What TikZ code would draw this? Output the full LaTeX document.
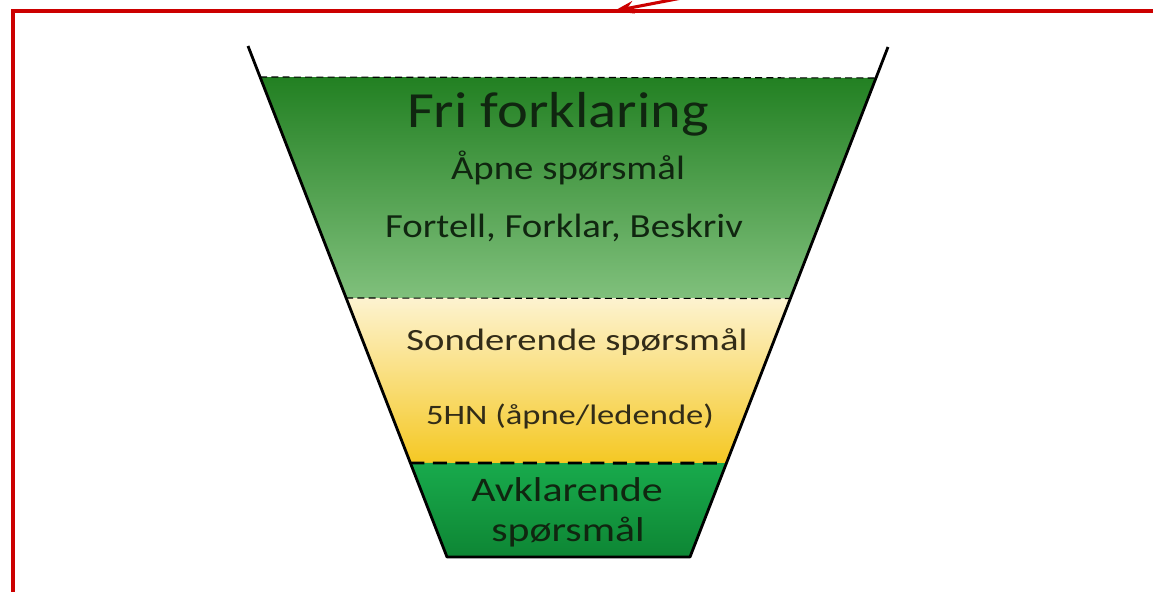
\documentclass[tikz,border=0pt]{standalone}
\usepackage{fontspec}
\usepackage{graphicx}
\setmainfont{Carlito}
\usetikzlibrary{calc,arrows.meta}

\definecolor{frame}{RGB}{204,0,0}
\definecolor{topA}{RGB}{34,128,34}
\definecolor{topB}{RGB}{128,192,124}
\definecolor{midA}{RGB}{253,243,208}
\definecolor{midB}{RGB}{245,200,35}
\definecolor{lowA}{RGB}{24,170,76}
\definecolor{lowB}{RGB}{14,134,52}
\definecolor{ink}{RGB}{16,38,16}
\definecolor{inkY}{RGB}{50,44,24}

\newcommand{\wide}[2]{\scalebox{#1}[1]{#2}}

\tikzset{
  label/.style={inner sep=0pt, anchor=base, text=ink},
  sep/.style={line width=0.8pt, dash pattern=on 5pt off 3pt},
  septhick/.style={line width=2pt, dash pattern=on 10pt off 6pt},
}

\begin{document}
\begin{tikzpicture}[x=0.025cm,y=-0.025cm]
\useasboundingbox (0,0) rectangle (1153,592);
\clip (0,0) rectangle (1153,592);
\fill[white] (0,0) rectangle (1153,592);

% funnel corners
\coordinate (TL) at (248,46);
\coordinate (TR) at (888,47);
\coordinate (BL) at (447,557);
\coordinate (BR) at (690,557);

% band borders
\coordinate (L1) at ($(TL)!0.0607!(BL)$);
\coordinate (R1) at ($(TR)!0.0607!(BR)$);
\coordinate (L2) at ($(TL)!0.4932!(BL)$);
\coordinate (R2) at ($(TR)!0.4932!(BR)$);
\coordinate (L3) at ($(TL)!0.8160!(BL)$);
\coordinate (R3) at ($(TR)!0.8160!(BR)$);

\shade[top color=topA, bottom color=topB] (L1)--(R1)--(R2)--(L2)--cycle;
\shade[top color=midA, bottom color=midB] (L2)--(R2)--(R3)--(L3)--cycle;
\shade[top color=lowA, bottom color=lowB] (L3)--(R3)--(BR)--(BL)--cycle;

\draw[sep] (L1)--(R1);
\draw[sep] (L2)--(R2);
\draw[septhick] (L3)--(R3);

\draw[line width=2pt, line join=round] (TL)--(BL)--(BR)--(TR);

\node[label, font=\fontsize{36}{40}\selectfont] (A) at (558,127) {\wide{1.155}{Fri forklaring}};
\node[label, font=\fontsize{24}{28}\selectfont] (B) at (568,179) {\wide{1.15}{Åpne spørsmål}};
\node[label, font=\fontsize{24}{28}\selectfont] (C) at (564,237) {\wide{1.15}{Fortell, Forklar, Beskriv}};
\node[label, text=inkY, font=\fontsize{22}{26}\selectfont] (D) at (577,350) {\wide{1.25}{Sonderende spørsmål}};
\node[label, text=inkY, font=\fontsize{20}{24}\selectfont] (E) at (570,424) {\wide{1.23}{5HN (åpne/ledende)}};
\node[label, font=\fontsize{24.5}{28}\selectfont] (F) at (567,501) {\wide{1.22}{Avklarende}};
\node[label, font=\fontsize{24.5}{28}\selectfont] (G) at (568,541) {\wide{1.21}{spørsmål}};

% red frame and pointer
\coordinate (FL) at (13,600);
\coordinate (FT) at (13,11);
\coordinate (FR) at (1160,11);
\coordinate (P0) at (692,-4);
\coordinate (P1) at (614,11);
\draw[frame, line width=2.2pt] (FL)--(FT)--(FR);
\draw[frame, line width=2.2pt, -{Stealth[length=14pt,width=9pt]}] (P0)--(P1);
\end{tikzpicture}
\end{document}
